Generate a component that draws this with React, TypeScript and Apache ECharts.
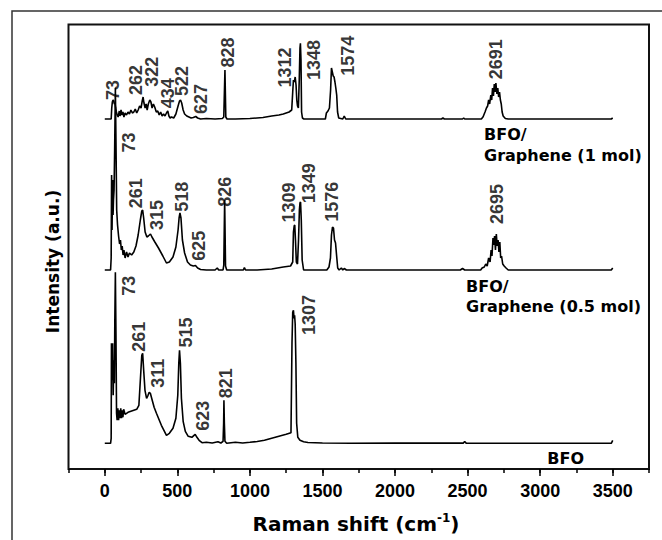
import React, { useEffect, useRef } from "react";
import * as echarts from "echarts";

const FONT = "DejaVu Sans";
const NUM_FONT = "Liberation Sans";

// x axis ticks (Raman shift, cm-1)
const xMajorTicks = [0, 500, 1000, 1500, 2000, 2500, 3000, 3500];

// vertical offsets of each spectrum (a.u.)
const offsetBFO = 25.7;
const offsetHalf = 199;
const offsetOne = 350;

// BFO spectrum: [Raman shift, intensity above its baseline]
const bfo: number[][] = [
  [0, 0], [40, 0], [44, 5], [46, 100], [50, 63], [54, 100], [58, 48], [62, 83], [66, 60], [69, 120],
  [73, 171], [77, 110], [81, 30], [85, 23], [90, 35], [95, 23], [100, 33], [105, 25], [110, 35], [115, 25],
  [120, 33], [125, 26], [130, 34], [140, 29], [160, 31], [180, 32], [200, 33], [220, 34], [235, 38], [245, 63],
  [255, 88], [261, 90], [268, 73], [277, 53], [288, 45], [298, 48], [306, 51], [314, 50], [325, 44], [340, 36],
  [356, 30], [390, 18], [425, 8], [445, 10], [470, 15], [490, 25], [503, 48], [510, 80], [515, 93], [521, 80],
  [528, 45], [540, 22], [555, 12], [575, 7], [600, 6], [615, 8], [623, 9], [635, 6], [650, 3], [670, 0.6],
  [700, 1], [740, 0.3], [780, 1.5], [800, 0.3], [815, 2], [819, 20], [821, 43], [824, 20], [828, 2], [840, 0],
  [900, 1], [950, 0.3], [1000, 1], [1050, 1.8], [1100, 3], [1150, 5], [1200, 7], [1250, 9], [1283, 10.5], [1290, 100],
  [1295, 131], [1300, 133], [1304, 125], [1308, 128], [1312, 119], [1317, 80], [1322, 20], [1330, 6], [1345, 3], [1370, 1.5],
  [1400, 0.8], [1500, 0.3], [1700, 0], [2000, 0.3], [2470, 0.2], [2480, 1.8], [2490, 0.2], [3000, 0], [3490, 0], [3500, 3],
];

// BFO/Graphene (0.5 mol)
const half: number[][] = [
  [0, 0], [40, 0], [44, 12], [47, 95], [50, 40], [54, 90], [57, 55], [60, 70], [64, 80], [68, 120],
  [73, 182], [77, 130], [82, 60], [88, 45], [95, 34], [102, 26], [108, 30], [114, 20], [120, 24], [126, 15],
  [132, 20], [140, 12], [150, 18], [160, 13], [170, 17], [185, 15], [200, 18], [215, 24], [230, 35], [245, 50],
  [255, 59], [261, 60], [268, 52], [278, 38], [290, 33], [300, 34], [315, 36], [325, 33], [345, 28], [370, 22],
  [400, 14], [425, 7], [445, 8], [470, 13], [490, 23], [505, 40], [512, 52], [518, 57], [525, 52], [535, 30],
  [550, 17], [570, 8], [590, 5], [610, 4], [625, 4.5], [640, 2], [660, 0.5], [700, 0], [760, 0], [775, 2],
  [785, 0], [815, 0], [820, 5], [826, 70], [832, 4], [840, 0], [900, 0], [955, 0], [962, 2.5], [970, 0],
  [1050, 0], [1150, 1], [1230, 3], [1280, 4], [1295, 8], [1300, 38], [1305, 44], [1309, 45], [1314, 30], [1320, 8],
  [1328, 6], [1335, 30], [1341, 60], [1345, 67], [1349, 68], [1354, 50], [1360, 10], [1370, 0], [1530, 0], [1545, 3],
  [1555, 12], [1562, 35], [1569, 43], [1576, 42], [1583, 30], [1590, 27], [1597, 15], [1605, 2], [1615, 0], [1630, 2],
  [1640, 0], [1650, 1.5], [1665, 0], [2450, 0], [2465, 1.5], [2480, 0], [2590, 0], [2600, 2], [2615, 3], [2625, 6],
  [2635, 4], [2645, 12], [2655, 8], [2662, 20], [2668, 14], [2675, 32], [2680, 25], [2686, 34], [2692, 20], [2698, 36],
  [2704, 24], [2710, 30], [2716, 18], [2722, 28], [2728, 12], [2734, 14], [2742, 6], [2752, 4], [2765, 2], [2780, 0],
  [3490, 0], [3500, 2],
];

// BFO/Graphene (1 mol)
const one: number[][] = [
  [0, 0], [44, 0], [48, 11], [52, 17], [57, 19], [62, 18], [66, 15], [70, 16], [75, 11], [80, 7],
  [85, 4], [92, 2], [100, 8], [105, 3], [112, 9], [118, 4], [125, 7], [132, 2], [140, 6], [150, 4],
  [160, 7], [170, 5], [180, 9], [190, 6], [200, 7], [210, 10], [220, 6], [230, 9], [240, 13], [250, 11],
  [258, 18], [264, 22], [270, 16], [278, 11], [285, 15], [292, 9], [300, 15], [310, 19], [318, 17], [326, 11],
  [335, 15], [344, 12], [355, 7], [365, 8], [375, 4], [385, 7], [395, 3], [405, 5], [415, 3], [425, 6],
  [434, 8], [442, 3], [450, 1], [460, 2], [475, 1], [490, 5], [505, 13], [515, 18], [522, 19], [530, 16],
  [540, 9], [550, 5], [565, 3], [580, 2], [595, 1], [610, 1.5], [627, 2.5], [640, 1], [660, 0], [700, 0.5],
  [760, 0], [810, 0.5], [820, 2], [828, 49], [834, 2], [842, 0], [900, 0], [1000, 0.5], [1090, 1.5], [1150, 3],
  [1200, 4], [1230, 5], [1270, 7], [1288, 9], [1295, 27], [1300, 39], [1306, 37], [1312, 42], [1318, 34], [1323, 19],
  [1328, 13], [1334, 11], [1340, 39], [1345, 71], [1348, 75.7], [1352, 59], [1356, 7], [1362, 1], [1372, 0], [1520, 0],
  [1527, 6], [1538, 8], [1548, 11], [1556, 29], [1562, 51], [1568, 47], [1574, 43], [1580, 42], [1586, 37], [1592, 31],
  [1598, 24], [1604, 7], [1612, 1], [1640, 0], [1650, 3], [1660, 0], [2320, 0], [2330, 1], [2340, 0], [2465, 0],
  [2473, 1], [2480, 0], [2595, 0], [2607, 2.3], [2620, 7], [2630, 11], [2638, 13], [2645, 19], [2652, 15], [2660, 24],
  [2666, 19], [2672, 31], [2678, 23], [2684, 35], [2690, 27], [2695, 36], [2702, 25], [2708, 31], [2714, 22], [2720, 27],
  [2726, 19], [2732, 15], [2738, 7], [2745, 3], [2760, 0.5], [2780, 0], [3490, 0], [3500, 1],
];

// Peak annotations: [label anchor shift, label anchor height, text]
const oneLabels: [number, number, string][] = [
  [57, 379, "73"], [216, 389, "262"], [327, 397.3, "322"], [436, 375.7, "434"], [534, 388, "522"],
  [660, 370, "627"], [847, 416.5, "828"], [1242, 401.5, "1312"], [1440, 409, "1348"], [1673, 413.2, "1574"],
  [2693, 409.8, "2691"],
];
const halfLabels: [number, number, string][] = [
  [167, 326.5, "73"], [212, 275.7, "261"], [362, 254, "315"], [532, 272.3, "518"], [652, 223.2, "625"],
  [830, 277.3, "826"], [1269, 266.5, "1309"], [1404, 285.7, "1349"], [1567, 267.3, "1576"], [2701, 265, "2695"],
];
const bfoLabels: [number, number, string][] = [
  [167, 183.2, "73"], [236, 132.3, "261"], [364, 95.7, "311"], [557, 136.5, "515"], [675, 53.2, "623"],
  [832, 85.7, "821"], [1407, 154, "1307"],
];

const shift = (d: number[][], off: number) => d.map(([x, y]) => [x, y + off]);

const lineSeries = (name: string, d: number[][], off: number) => ({
  name,
  type: "line",
  data: shift(d, off),
  showSymbol: false,
  symbol: "none",
  smooth: false,
  silent: true,
  lineStyle: { color: "#000", width: 1.6 },
});

const labelSeries = (name: string, labels: [number, number, string][]) => ({
  name,
  type: "scatter",
  silent: true,
  symbolSize: 1,
  itemStyle: { color: "rgba(0,0,0,0)" },
  data: labels.map(([x, y, t]) => ({ value: [x, y], name: t })),
  label: {
    show: true,
    position: "inside",
    rotate: 90,
    formatter: (p: any) => p.name,
    fontFamily: NUM_FONT,
    fontWeight: "bold",
    fontSize: 18,
    color: "#000",
  },
});

const boldText = (x: number, y: number, text: string, size: number, extra: any = {}) => ({
  type: "text",
  x,
  y,
  silent: true,
  style: {
    text,
    fontFamily: FONT,
    fontWeight: "bold",
    fontSize: size,
    fill: "#000",
    textAlign: "left",
    textVerticalAlign: "middle",
    ...extra,
  },
});

export default function App() {
  const ref = useRef<HTMLDivElement>(null);
  useEffect(() => {
    if (!ref.current) return;
    const chart = echarts.init(ref.current, undefined, { renderer: "svg" });
    chart.setOption({
      animation: false,
      backgroundColor: "#fff",
      grid: {
        left: 68.5,
        top: 24.5,
        width: 580.5,
        height: 444.5,
        show: true,
        borderColor: "#111",
        borderWidth: 2,
        backgroundColor: "transparent",
      },
      xAxis: [
        {
          type: "value",
          min: -250,
          max: 3750,
          interval: 250,
          position: "bottom",
          axisLine: { show: false },
          axisTick: { show: true, inside: false, length: 4, lineStyle: { color: "#000", width: 1.5 } },
          axisLabel: { show: false },
          splitLine: { show: false },
        },
        {
          type: "value",
          min: -250,
          max: 3750,
          position: "bottom",
          axisLine: { show: false },
          axisTick: { show: true, inside: false, length: 7, customValues: xMajorTicks, lineStyle: { color: "#000", width: 1.5 } },
          axisLabel: {
            show: true,
            customValues: xMajorTicks,
            formatter: (v: number) => String(v),
            margin: 13,
            fontFamily: NUM_FONT,
            fontWeight: "bold",
            fontSize: 18,
            color: "#000",
          },
          splitLine: { show: false },
        },
      ],
      yAxis: { type: "value", min: 0, max: 444.5, show: false },
      series: [
        lineSeries("BFO", bfo, offsetBFO),
        lineSeries("BFO/Graphene (0.5 mol)", half, offsetHalf),
        lineSeries("BFO/Graphene (1 mol)", one, offsetOne),
        labelSeries("BFO peaks", bfoLabels),
        labelSeries("0.5 mol peaks", halfLabels),
        labelSeries("1 mol peaks", oneLabels),
      ],
      graphic: [
        {
          type: "rect",
          silent: true,
          shape: { x: 12, y: 11, width: 700, height: 600 },
          style: { fill: "none", stroke: "#333", lineWidth: 1.5 },
        },
        boldText(484, 134, "BFO/", 16),
        boldText(484, 155, "Graphene (1 mol)", 16),
        boldText(466, 286.7, "BFO/", 16),
        boldText(466, 306.7, "Graphene (0.5 mol)", 16),
        boldText(547.3, 458, "BFO", 16),
        {
          type: "text",
          x: 53,
          y: 261.5,
          rotation: Math.PI / 2,
          silent: true,
          style: {
            text: "Intensity (a.u.)",
            fontFamily: FONT,
            fontWeight: "bold",
            fontSize: 17,
            fill: "#000",
            textAlign: "center",
            textVerticalAlign: "middle",
          },
        },
        {
          type: "text",
          x: 356,
          y: 524,
          silent: true,
          style: {
            text: "{a|Raman shift (cm}{b|-1}{a|)}",
            textAlign: "center",
            textVerticalAlign: "middle",
            rich: {
              a: { fontFamily: FONT, fontWeight: "bold", fontSize: 20, fill: "#000", lineHeight: 24 },
              b: { fontFamily: FONT, fontWeight: "bold", fontSize: 12, fill: "#000", lineHeight: 12, verticalAlign: "top" },
            },
          },
        },
      ],
    });
    return () => chart.dispose();
  }, []);
  return <div ref={ref} style={{ position: "fixed", left: 0, top: 0, width: 662, height: 540 }} />;
}
